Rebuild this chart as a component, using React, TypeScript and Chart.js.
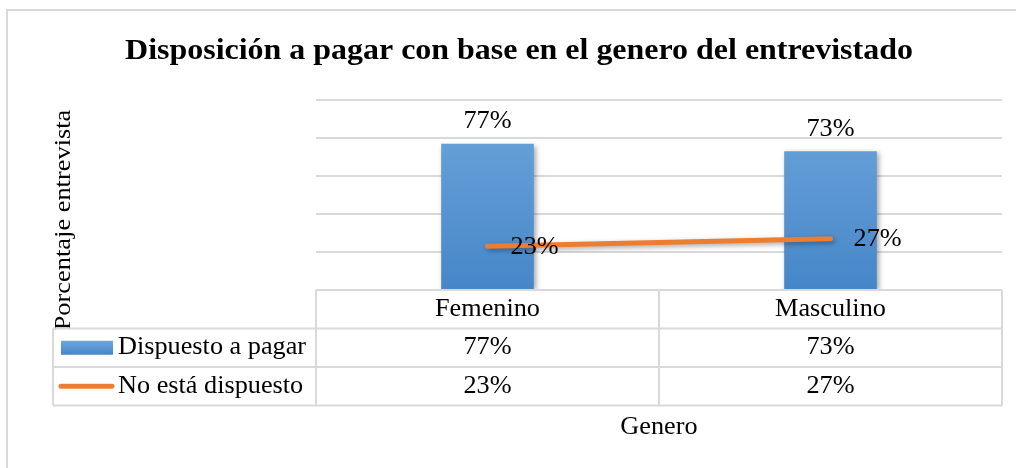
import React, { useEffect, useRef } from "react";
import { Chart, registerables } from "chart.js";

Chart.register(...registerables);

const chartTitle = "Disposición a pagar con base en el genero del entrevistado";
const yAxisTitle = "Porcentaje entrevista";
const xAxisTitle = "Genero";
const categories = ["Femenino", "Masculino"];
const seriesNames = ["Dispuesto a pagar", "No está dispuesto"];
const dispuesto = [77, 73];
const noDispuesto = [23, 27];
const yMin = 0;
const yMax = 100;
const yStep = 20;

const FONT = '"Liberation Serif", "Times New Roman", serif';
const SX = 1.05; // horizontal stretch of the reference's text
const GRID = "#d9d9d9";

function txt(
  ctx: CanvasRenderingContext2D,
  s: string,
  x: number,
  y: number,
  font: string,
  align: CanvasTextAlign,
  baseline: CanvasTextBaseline = "middle",
  sx: number = SX
) {
  ctx.save();
  ctx.translate(x, y);
  ctx.scale(sx, 1);
  ctx.font = font;
  ctx.fillStyle = "#000";
  ctx.textAlign = align;
  ctx.textBaseline = baseline;
  ctx.fillText(s, 0, 0);
  ctx.restore();
}

const pct = (v: number) => `${v}%`;

const decor = {
  id: "decor",
  beforeDatasetDraw(chart: any) {
    const ctx = chart.ctx;
    ctx.save();
    ctx.shadowColor = "rgba(0,0,0,0.35)";
    ctx.shadowBlur = 5;
    ctx.shadowOffsetX = 2;
    ctx.shadowOffsetY = 2;
  },
  afterDatasetDraw(chart: any) {
    chart.ctx.restore();
  },
  afterDraw(chart: any) {
    const ctx: CanvasRenderingContext2D = chart.ctx;
    const area = chart.chartArea;
    const xs = chart.scales.x;
    const base = "25px " + FONT;

    // outer frame
    ctx.save();
    ctx.strokeStyle = GRID;
    ctx.lineWidth = 2;
    ctx.strokeRect(7, 10, 1200, 800);
    ctx.restore();

    // title
    txt(ctx, chartTitle, (area.left + area.right) / 2 - 140, 59, "bold 30px " + FONT, "center", "alphabetic", 1.065);

    // y-axis title (rotated)
    ctx.save();
    ctx.translate(70, 220);
    ctx.rotate(-Math.PI / 2);
    ctx.font = "24px " + FONT;
    ctx.fillStyle = "#000";
    ctx.textAlign = "center";
    ctx.textBaseline = "alphabetic";
    ctx.scale(1.1, 1);
    ctx.fillText(yAxisTitle, 0, 0);
    ctx.restore();

    // data table
    const rowH = 38.5;
    const top = area.bottom;
    const rows = [top, top + rowH, top + 2 * rowH, top + 3 * rowH];
    const mid = (xs.getPixelForValue(0) + xs.getPixelForValue(1)) / 2;
    const legLeft = 53;
    ctx.save();
    ctx.strokeStyle = GRID;
    ctx.lineWidth = 2;
    ctx.beginPath();
    ctx.moveTo(area.left, rows[0]);
    ctx.lineTo(area.right, rows[0]);
    ctx.moveTo(area.left, rows[0]);
    ctx.lineTo(area.left, rows[1]);
    for (let i = 1; i < rows.length; i++) {
      ctx.moveTo(legLeft, rows[i]);
      ctx.lineTo(area.right, rows[i]);
    }
    ctx.moveTo(legLeft, rows[1]);
    ctx.lineTo(legLeft, rows[3]);
    ctx.moveTo(area.left, rows[1]);
    ctx.lineTo(area.left, rows[3]);
    ctx.moveTo(mid, rows[0]);
    ctx.lineTo(mid, rows[3]);
    ctx.moveTo(area.right, rows[0]);
    ctx.lineTo(area.right, rows[3]);
    ctx.stroke();
    ctx.restore();

    categories.forEach((c, i) => {
      const cx = xs.getPixelForValue(i);
      txt(ctx, c, cx, rows[0] + rowH / 2, base, "center");
      txt(ctx, pct(dispuesto[i]), cx, rows[1] + rowH / 2, base, "center");
      txt(ctx, pct(noDispuesto[i]), cx, rows[2] + rowH / 2, base, "center");
    });

    // legend keys
    const r1 = rows[1] + rowH / 2;
    const r2 = rows[2] + rowH / 2;
    ctx.save();
    const g = ctx.createLinearGradient(0, r1 - 7, 0, r1 + 7);
    g.addColorStop(0, "#6ea6dc");
    g.addColorStop(1, "#4686c8");
    ctx.fillStyle = g;
    ctx.fillRect(61, r1 - 7, 52, 14);
    ctx.strokeStyle = "#ed7d31";
    ctx.lineWidth = 5;
    ctx.lineCap = "round";
    ctx.beginPath();
    ctx.moveTo(61, r2);
    ctx.lineTo(112, r2);
    ctx.stroke();
    ctx.restore();
    txt(ctx, seriesNames[0], 118, r1, base, "left");
    txt(ctx, seriesNames[1], 118, r2, base, "left");

    // x-axis title
    txt(ctx, xAxisTitle, (area.left + area.right) / 2, 427, base, "center");

    // data labels
    const barMeta = chart.getDatasetMeta(1);
    barMeta.data.forEach((el: any, i: number) => {
      txt(ctx, pct(dispuesto[i]), el.x, el.y - 22, base, "center");
    });
    const lineMeta = chart.getDatasetMeta(0);
    lineMeta.data.forEach((el: any, i: number) => {
      txt(ctx, pct(noDispuesto[i]), el.x + 23, el.y + 1, base, "left");
    });
  },
};

export default function App() {
  const ref = useRef<HTMLCanvasElement | null>(null);
  useEffect(() => {
    if (!ref.current) return;
    const chart = new Chart(ref.current, {
      type: "bar",
      data: {
        labels: categories,
        datasets: [
          {
            type: "line",
            label: seriesNames[1],
            data: noDispuesto,
            borderColor: "#ed7d31",
            backgroundColor: "#ed7d31",
            borderWidth: 5,
            borderCapStyle: "round",
            pointRadius: 0,
            tension: 0,
            order: 0,
          } as any,
          {
            type: "bar",
            label: seriesNames[0],
            data: dispuesto,
            order: 1,
            barPercentage: 0.27,
            categoryPercentage: 1,
            backgroundColor: (c: any) => {
              const a = c.chart.chartArea;
              if (!a) return "#5b9bd5";
              const g = c.chart.ctx.createLinearGradient(0, a.top, 0, a.bottom);
              g.addColorStop(0, "#6ea6dc");
              g.addColorStop(1, "#4686c8");
              return g;
            },
          } as any,
        ],
      },
      options: {
        responsive: false,
        animation: false,
        layout: { padding: { left: 316, right: 14, top: 100, bottom: 178 } },
        plugins: {
          legend: { display: false },
          title: { display: false },
          tooltip: { enabled: false },
        },
        scales: {
          x: { display: false },
          y: {
            min: yMin,
            max: yMax,
            ticks: { display: false, stepSize: yStep },
            grid: { color: GRID, lineWidth: 2, drawTicks: false },
            border: { display: false },
          },
        },
      },
      plugins: [decor],
    });
    return () => chart.destroy();
  }, []);
  return (
    <div style={{ position: "absolute", left: 0, top: 0, width: 1016, height: 468, background: "#fff" }}>
      <canvas ref={ref} width={1016} height={468} style={{ display: "block" }} />
    </div>
  );
}
